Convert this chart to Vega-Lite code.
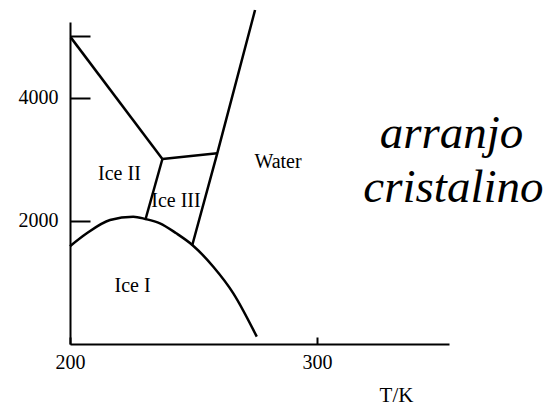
{
  "$schema": "https://vega.github.io/schema/vega-lite/v6.json",
  "width": 379,
  "height": 322,
  "autosize": {"type": "none"},
  "padding": {"left": 70, "top": 22, "right": 100, "bottom": 61},
  "background": "white",
  "config": {"view": {"stroke": null}, "font": "Liberation Serif"},
  "datasets": {
    "curve": [
      {"T": 200.0, "P": 1590, "i": 0},
      {"T": 206.8, "P": 1800, "i": 1},
      {"T": 216.2, "P": 2016, "i": 2},
      {"T": 225.6, "P": 2070, "i": 3},
      {"T": 230.6, "P": 2032, "i": 4},
      {"T": 236.4, "P": 1962, "i": 5},
      {"T": 243.0, "P": 1800, "i": 6},
      {"T": 249.5, "P": 1610, "i": 7},
      {"T": 258.0, "P": 1256, "i": 8},
      {"T": 266.1, "P": 824, "i": 9},
      {"T": 275.6, "P": 119, "i": 10}
    ],
    "lines": [
      {"seg": "II-liq", "T": 200.3, "P": 4985, "i": 0},
      {"seg": "II-liq", "T": 237.4, "P": 3008, "i": 1},
      {"seg": "II-III", "T": 237.4, "P": 3008, "i": 0},
      {"seg": "II-III", "T": 230.6, "P": 2032, "i": 1},
      {"seg": "III-top", "T": 237.4, "P": 3008, "i": 0},
      {"seg": "III-top", "T": 259.6, "P": 3100, "i": 1},
      {"seg": "melt", "T": 249.5, "P": 1610, "i": 0},
      {"seg": "melt", "T": 259.6, "P": 3100, "i": 1},
      {"seg": "melt", "T": 274.9, "P": 5430, "i": 2}
    ],
    "labels": [
      {"T": 220.0, "P": 2666, "text": "Ice II", "kind": "ice"},
      {"T": 242.9, "P": 2227, "text": "Ice III", "kind": "ice"},
      {"T": 225.3, "P": 845, "text": "Ice I", "kind": "ice"},
      {"T": 284.2, "P": 2861, "text": "Water", "kind": "ice"},
      {"T": 354.4, "P": 3182, "text": "arranjo", "kind": "big"},
      {"T": 355.2, "P": 2313, "text": "cristalino", "kind": "big"}
    ]
  },
  "encoding": {
    "x": {
      "field": "T",
      "type": "quantitative",
      "scale": {"domain": [200, 353.4], "nice": false, "zero": false},
      "axis": {
        "values": [200, 300],
        "format": "d",
        "title": "T/K",
        "grid": false,
        "domainColor": "black",
        "domainWidth": 2,
        "tickColor": "black",
        "tickWidth": 2,
        "tickSize": -7,
        "labelFont": "Liberation Serif",
        "labelFontSize": 20,
        "labelColor": "black",
        "labelFlush": false,
        "labelBaseline": "alphabetic",
        "labelPadding": 31,
        "titleFont": "Liberation Serif",
        "titleFontSize": 21,
        "titleFontWeight": "normal",
        "titleColor": "black",
        "titleAlign": "center",
        "titleBaseline": "alphabetic",
        "titleX": 326,
        "titleY": 57
      }
    },
    "y": {
      "field": "P",
      "type": "quantitative",
      "scale": {"domain": [0, 5235], "nice": false, "zero": false},
      "axis": {
        "values": [2000, 4000, 5000],
        "format": "d",
        "labelExpr": "datum.value == 5000 ? '' : datum.label",
        "title": null,
        "grid": false,
        "domainColor": "black",
        "domainWidth": 2,
        "tickColor": "black",
        "tickWidth": 2,
        "tickSize": -20,
        "labelFont": "Liberation Serif",
        "labelFontSize": 20,
        "labelColor": "black",
        "labelFlush": false,
        "labelPadding": 32,
        "labelBaseline": "middle"
      }
    }
  },
  "layer": [
    {
      "data": {"name": "curve"},
      "mark": {"type": "line", "color": "black", "strokeWidth": 2.5, "interpolate": "monotone", "clip": false},
      "encoding": {"order": {"field": "i", "type": "quantitative"}}
    },
    {
      "data": {"name": "lines"},
      "mark": {"type": "line", "color": "black", "strokeWidth": 2.5, "clip": false},
      "encoding": {
        "detail": {"field": "seg", "type": "nominal"},
        "order": {"field": "i", "type": "quantitative"}
      }
    },
    {
      "data": {"name": "labels"},
      "transform": [{"filter": "datum.kind == 'ice'"}],
      "mark": {"type": "text", "font": "Liberation Serif", "fontSize": 20, "color": "black", "align": "center", "baseline": "alphabetic", "clip": false},
      "encoding": {"text": {"field": "text", "type": "nominal"}}
    },
    {
      "data": {"name": "labels"},
      "transform": [{"filter": "datum.kind == 'big'"}],
      "mark": {"type": "text", "font": "Liberation Serif", "fontSize": 47, "fontStyle": "italic", "color": "black", "align": "center", "baseline": "alphabetic", "clip": false},
      "encoding": {"text": {"field": "text", "type": "nominal"}}
    }
  ]
}
